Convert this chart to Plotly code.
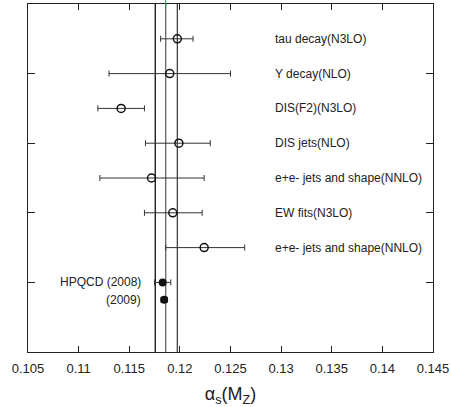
import plotly.graph_objects as go

# Open-circle measurements
labels = ["tau decay(N3LO)", "Y decay(NLO)", "DIS(F2)(N3LO)", "DIS jets(NLO)",
          "e+e- jets and shape(NNLO)", "EW fits(N3LO)", "e+e- jets and shape(NNLO)"]
ypos = [4.5, 4.0, 3.5, 3.0, 2.5, 2.0, 1.5]
central = [0.11975, 0.1190, 0.1142, 0.1199, 0.1172, 0.1193, 0.1224]
low = [0.1181, 0.1130, 0.1119, 0.1166, 0.1121, 0.1165, 0.1186]
high = [0.1213, 0.1250, 0.1165, 0.1230, 0.1224, 0.1222, 0.1264]

# Filled HPQCD points
hp_labels = ["HPQCD (2008)", "(2009)"]
hp_y = [1.0, 0.75]
hp_central = [0.1183, 0.11845]
hp_low = [0.1175, 0.11815]
hp_high = [0.1191, 0.11875]

# Vertical reference lines
vlines = [0.11757, 0.1186, 0.11975]
vline_colors = ["#111111", "#666666", "#444444"]

xtick_vals = [0.105, 0.11, 0.115, 0.12, 0.125, 0.13, 0.135, 0.14, 0.145]
xtick_text = ["0.105", "0.11", "0.115", "0.12", "0.125", "0.13", "0.135", "0.14", "0.145"]
ytick_vals = [1, 2, 3, 4]

label_x = 0.1292
hp_label_x = 0.11638

fig = go.Figure()

fig.add_trace(go.Scatter(
    x=central, y=ypos, mode="markers",
    marker=dict(symbol="circle-open", size=8, color="#111111", line=dict(width=1.5)),
    error_x=dict(type="data", symmetric=False,
                 array=[h - c for h, c in zip(high, central)],
                 arrayminus=[c - l for c, l in zip(central, low)],
                 color="#333333", thickness=1, width=3),
    showlegend=False, hoverinfo="skip"))

fig.add_trace(go.Scatter(
    x=hp_central, y=hp_y, mode="markers",
    marker=dict(symbol="circle", size=8, color="#111111"),
    error_x=dict(type="data", symmetric=False,
                 array=[h - c for h, c in zip(hp_high, hp_central)],
                 arrayminus=[c - l for c, l in zip(hp_central, hp_low)],
                 color="#333333", thickness=1, width=3),
    showlegend=False, hoverinfo="skip"))

shapes = []
for xv, col in zip(vlines, vline_colors):
    shapes.append(dict(type="line", xref="x", yref="paper", x0=xv, x1=xv, y0=0, y1=1,
                       line=dict(color=col, width=1.3), layer="below"))
# small green marker at the top edge
shapes.append(dict(type="line", xref="x", yref="paper", x0=vlines[1], x1=vlines[1],
                   y0=0.99, y1=1.012, line=dict(color="#2e9a5a", width=1)))

annotations = []
for lab, yv in zip(labels, ypos):
    annotations.append(dict(x=label_x, y=yv, xref="x", yref="y", text=lab,
                            showarrow=False, xanchor="left", yanchor="middle",
                            font=dict(family="Liberation Sans, Arial", size=12, color="#222222")))
for lab, yv in zip(hp_labels, hp_y):
    annotations.append(dict(x=hp_label_x, y=yv, xref="x", yref="y", text=lab,
                            showarrow=False, xanchor="right", yanchor="middle",
                            font=dict(family="Liberation Sans, Arial", size=12, color="#222222")))

fig.update_layout(
    width=451, height=407,
    margin=dict(l=28, r=18, t=4, b=55),
    paper_bgcolor="white", plot_bgcolor="white",
    font=dict(family="Liberation Sans, Arial", color="#222222"),
    shapes=shapes, annotations=annotations,
    xaxis=dict(range=[0.105, 0.145], tickvals=xtick_vals, ticktext=xtick_text,
               ticks="inside", ticklen=6, tickcolor="#222222", tickwidth=1,
               showline=True, linecolor="#222222", linewidth=1, mirror="ticks",
               showgrid=False, zeroline=False, automargin=False,
               ticklabelstandoff=4,
               tickfont=dict(size=13, color="#222222"),
               title=dict(text="α<sub>s</sub>(M<sub>Z</sub>)", font=dict(size=18, color="#222222"),
                          standoff=14)),
    yaxis=dict(range=[0, 5], tickvals=ytick_vals, showticklabels=False,
               ticks="inside", ticklen=7, tickcolor="#222222", tickwidth=1,
               showline=True, linecolor="#222222", linewidth=1, mirror="ticks",
               showgrid=False, zeroline=False, automargin=False),
)

fig.write_html("out.html", config={"displayModeBar": False},
               post_script="document.body.style.margin='0';document.body.style.overflow='hidden';")
